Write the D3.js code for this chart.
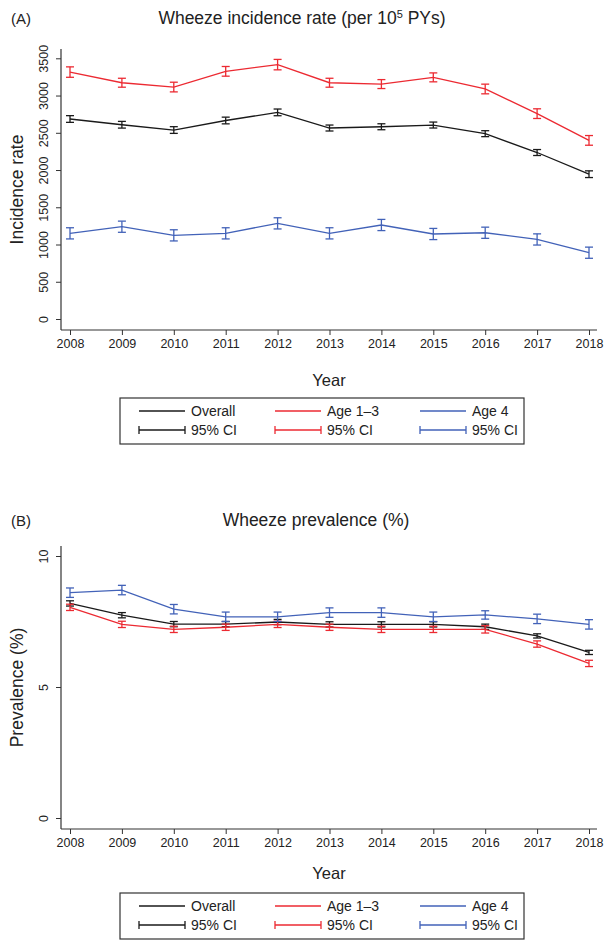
<!DOCTYPE html>
<html>
<head>
<meta charset="utf-8">
<script src="https://cdn.jsdelivr.net/npm/d3@7"></script>
<style>
  body { margin: 0; background: #fff; }
  text { font-family: "Liberation Sans", Arial, Helvetica, sans-serif; fill: #222; }
</style>
</head>
<body>
<div id="chart"></div>
<script>
// years on the x axis
const years = [2008, 2009, 2010, 2011, 2012, 2013, 2014, 2015, 2016, 2017, 2018];

// (A) incidence rate per 10^5 PYs
const incOverall = [2685, 2608, 2537, 2665, 2774, 2564, 2581, 2604, 2488, 2235, 1944];
const incAge13   = [3315, 3172, 3114, 3325, 3415, 3172, 3154, 3244, 3088, 2757, 2398];
const incAge4    = [1150, 1239, 1123, 1150, 1284, 1150, 1262, 1141, 1158, 1068, 890];
const incOverallCI = [45, 45, 45, 45, 45, 40, 40, 40, 40, 40, 45];
const incAge13CI   = [70, 60, 65, 65, 70, 60, 60, 60, 65, 65, 65];
const incAge4CI    = [75, 75, 75, 75, 75, 75, 75, 75, 75, 75, 75];
const incTicks = [0, 500, 1000, 1500, 2000, 2500, 3000, 3500];

// (B) prevalence %
const prevOverall = [8.19, 7.74, 7.40, 7.40, 7.48, 7.39, 7.39, 7.39, 7.30, 6.95, 6.32];
const prevAge13   = [8.04, 7.39, 7.20, 7.28, 7.39, 7.28, 7.20, 7.20, 7.20, 6.64, 5.90];
const prevAge4    = [8.60, 8.70, 7.97, 7.68, 7.68, 7.84, 7.84, 7.68, 7.75, 7.60, 7.39];
const prevOverallCI = [0.10, 0.10, 0.10, 0.10, 0.10, 0.10, 0.10, 0.10, 0.10, 0.08, 0.08];
const prevAge13CI   = [0.12, 0.12, 0.12, 0.12, 0.12, 0.12, 0.12, 0.12, 0.14, 0.12, 0.12];
const prevAge4CI    = [0.18, 0.18, 0.18, 0.18, 0.18, 0.18, 0.18, 0.18, 0.16, 0.18, 0.18];
const prevTicks = [0, 5, 10];

const seriesNames = ["Overall", "Age 1\u20133", "Age 4"];
const seriesColors = ["#1a1a1a", "#ec2a32", "#4262b8"];

const W = 606, H = 941;
const svg = d3.select("#chart").append("svg").attr("width", W).attr("height", H);

function panel(opt) {
    const g = svg.append("g");
    const left = 61, right = 597;

    const x = d3.scaleLinear().domain([2008, 2018]).range([70, 589]);
    const y = d3.scaleLinear().domain(opt.domain).range(opt.yRange);

    // frame lines
    g.append("line").attr("x1", left).attr("x2", left).attr("y1", opt.top).attr("y2", opt.bottom)
        .attr("stroke", "#333").attr("stroke-width", 1.2);
    g.append("line").attr("x1", left).attr("x2", right).attr("y1", opt.bottom).attr("y2", opt.bottom)
        .attr("stroke", "#333").attr("stroke-width", 1.2);

    // x axis
    const xa = g.append("g").attr("transform", `translate(0,${opt.bottom})`)
        .call(d3.axisBottom(x).tickValues(years).tickFormat(d3.format("d")).tickSize(5).tickPadding(4));
    xa.select(".domain").remove();
    xa.selectAll("line").attr("stroke", "#333");
    xa.selectAll("text").attr("font-size", 12.5).style("font-family", "Liberation Sans, Arial, sans-serif");

    // y axis, rotated labels
    const ya = g.append("g").attr("transform", `translate(${left},0)`)
        .call(d3.axisLeft(y).tickValues(opt.ticks).tickFormat(d3.format("d")).tickSize(5).tickPadding(4));
    ya.select(".domain").remove();
    ya.selectAll("line").attr("stroke", "#333");
    ya.selectAll("text")
        .attr("font-size", 12.5)
        .style("font-family", "Liberation Sans, Arial, sans-serif")
        .attr("x", 0).attr("dy", 0)
        .attr("text-anchor", "middle")
        .attr("transform", "translate(-13,0) rotate(-90)");

    // titles
    g.append("text").attr("x", 11).attr("y", opt.titleY).attr("font-size", 15).text(opt.tag);
    const t = g.append("text").attr("x", opt.titleX).attr("y", opt.titleY).attr("font-size", 17.5)
        .attr("text-anchor", "middle");
    opt.title(t);
    g.append("text").attr("transform", `translate(23,${(opt.top + opt.bottom) / 2}) rotate(-90)`)
        .attr("text-anchor", "middle").attr("font-size", 17.5).text(opt.yLabel);
    g.append("text").attr("x", 329).attr("y", opt.yearY).attr("text-anchor", "middle")
        .attr("font-size", 16.5).text("Year");

    // series: line + error bars
    const line = d3.line().x((d, i) => x(years[i])).y(d => y(d));
    opt.series.forEach((s, k) => {
        const col = seriesColors[k];
        g.append("path").datum(s.values).attr("d", line).attr("fill", "none")
            .attr("stroke", col).attr("stroke-width", 1.3);
        const eb = g.append("g").attr("stroke", col).attr("stroke-width", 1.3);
        s.values.forEach((v, i) => {
            const xi = x(years[i]), lo = y(v - s.ci[i]), hi = y(v + s.ci[i]);
            eb.append("line").attr("x1", xi).attr("x2", xi).attr("y1", lo).attr("y2", hi);
            eb.append("line").attr("x1", xi - 4).attr("x2", xi + 4).attr("y1", lo).attr("y2", lo);
            eb.append("line").attr("x1", xi - 4).attr("x2", xi + 4).attr("y1", hi).attr("y2", hi);
        });
    });

    // legend
    const lg = g.append("g").attr("transform", `translate(0,${opt.legendY})`);
    lg.append("rect").attr("x", 120).attr("y", 0).attr("width", 404).attr("height", 46)
        .attr("fill", "none").attr("stroke", "#333").attr("stroke-width", 1.2);
    const cols = [139, 275, 420];
    seriesNames.forEach((name, k) => {
        const cx = cols[k], col = seriesColors[k];
        lg.append("line").attr("x1", cx).attr("x2", cx + 46).attr("y1", 13).attr("y2", 13)
            .attr("stroke", col).attr("stroke-width", 1.3);
        lg.append("text").attr("x", cx + 52).attr("y", 18).attr("font-size", 14).text(name);
        const r2 = 32;
        lg.append("line").attr("x1", cx).attr("x2", cx + 46).attr("y1", r2).attr("y2", r2)
            .attr("stroke", col).attr("stroke-width", 1.3);
        lg.append("line").attr("x1", cx).attr("x2", cx).attr("y1", r2 - 4).attr("y2", r2 + 4)
            .attr("stroke", col).attr("stroke-width", 1.3);
        lg.append("line").attr("x1", cx + 46).attr("x2", cx + 46).attr("y1", r2 - 4).attr("y2", r2 + 4)
            .attr("stroke", col).attr("stroke-width", 1.3);
        lg.append("text").attr("x", cx + 52).attr("y", r2 + 5).attr("font-size", 14).text("95% CI");
    });
}

panel({
    tag: "(A)",
    title: t => {
        t.append("tspan").text("Wheeze incidence rate (per 10");
        t.append("tspan").attr("font-size", 11).attr("dy", -6).text("5");
        t.append("tspan").attr("dy", 6).text(" PYs)");
    },
    titleX: 302, titleY: 24,
    yLabel: "Incidence rate",
    domain: [0, 3500], yRange: [319, 58.3], ticks: incTicks,
    top: 49, bottom: 330, yearY: 386, legendY: 398,
    series: [
        { values: incOverall, ci: incOverallCI },
        { values: incAge13, ci: incAge13CI },
        { values: incAge4, ci: incAge4CI }
    ]
});

panel({
    tag: "(B)",
    title: t => t.text("Wheeze prevalence (%)"),
    titleX: 316, titleY: 526,
    yLabel: "Prevalence (%)",
    domain: [0, 10], yRange: [818, 556], ticks: prevTicks,
    top: 546, bottom: 829, yearY: 879, legendY: 893,
    series: [
        { values: prevOverall, ci: prevOverallCI },
        { values: prevAge13, ci: prevAge13CI },
        { values: prevAge4, ci: prevAge4CI }
    ]
});
</script>
</body>
</html>
